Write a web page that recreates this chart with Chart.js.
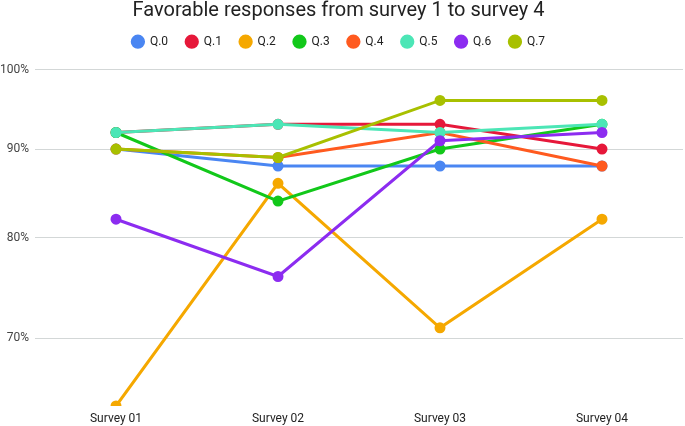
<!DOCTYPE html>
<html>
<head>
<meta charset="utf-8">
<script src="https://cdn.jsdelivr.net/npm/chart.js@4"></script>
<style>
  html, body { margin: 0; padding: 0; background: #ffffff; }
  #wrap { width: 685px; height: 426px; }
</style>
</head>
<body>
<div id="wrap"><canvas id="c" width="685" height="426"></canvas></div>
<script>
const categories = ['Survey 01', 'Survey 02', 'Survey 03', 'Survey 04'];
const seriesNames = ['Q.0', 'Q.1', 'Q.2', 'Q.3', 'Q.4', 'Q.5', 'Q.6', 'Q.7'];
const q0 = [90, 88, 88, 88];
const q1 = [92, 93, 93, 90];
const q2 = [64, 86, 71, 82];
const q3 = [92, 84, 90, 93];
const q4 = [90, 89, 92, 88];
const q5 = [92, 93, 92, 93];
const q6 = [82, 76, 91, 92];
const q7 = [90, 89, 96, 96];
const yTicks = [70, 80, 90, 100];
const colors = ['#4a86f2', '#e6183a', '#f5a800', '#12c81a', '#ff5a1f', '#4ce6b6', '#8c2cf0', '#a8c000'];

const seriesValues = [q0, q1, q2, q3, q4, q5, q6, q7];
const N = seriesValues.length;

const datasets = seriesValues.map((vals, i) => ({
  label: seriesNames[i],
  data: vals,
  borderColor: colors[i],
  backgroundColor: colors[i],
  pointBackgroundColor: colors[i],
  pointBorderColor: colors[i],
  borderWidth: 3,
  pointRadius: 4,
  pointHoverRadius: 4,
  tension: 0,
  fill: false,
  order: N - i,
  clip: {left: 10, top: 10, right: 10, bottom: 0}
}));

new Chart(document.getElementById('c'), {
  type: 'line',
  data: { labels: categories, datasets },
  options: {
    responsive: false,
    animation: false,
    devicePixelRatio: 1,
    layout: { autoPadding: false, padding: { left: -6, right: 2, top: 0, bottom: -5.4 } },
    plugins: {
      title: {
        display: true,
        text: 'Favorable responses from survey 1 to survey 4',
        color: '#222222',
        font: { family: 'Roboto', size: 20, weight: 'normal', lineHeight: 1 },
        padding: { top: 1, bottom: -3 }
      },
      legend: {
        display: true,
        position: 'top',
        labels: {
          usePointStyle: true,
          pointStyle: 'circle',
          boxWidth: 12,
          boxHeight: 8,
          padding: 17.7,
          color: '#222222',
          font: { family: 'Roboto', size: 12 },
          sort: (a, b) => a.datasetIndex - b.datasetIndex
        }
      },
      tooltip: { enabled: false }
    },
    scales: {
      x: {
        type: 'category',
        offset: true,
        grid: { display: false, drawTicks: false },
        border: { display: false },
        ticks: {
          color: '#222222',
          font: { family: 'Roboto', size: 12 },
          padding: 5.5,
          maxRotation: 0
        }
      },
      y: {
        type: 'logarithmic',
        min: 64,
        max: 101.6,
        afterBuildTicks: (axis) => { axis.ticks = yTicks.map(v => ({ value: v })); },
        grid: { color: '#d3d7d7', lineWidth: 1, drawTicks: false },
        border: { display: false },
        ticks: {
          color: '#444444',
          font: { family: 'Roboto', size: 12 },
          padding: 6,
          callback: (v) => v + '%'
        }
      }
    }
  }
});
</script>
</body>
</html>
